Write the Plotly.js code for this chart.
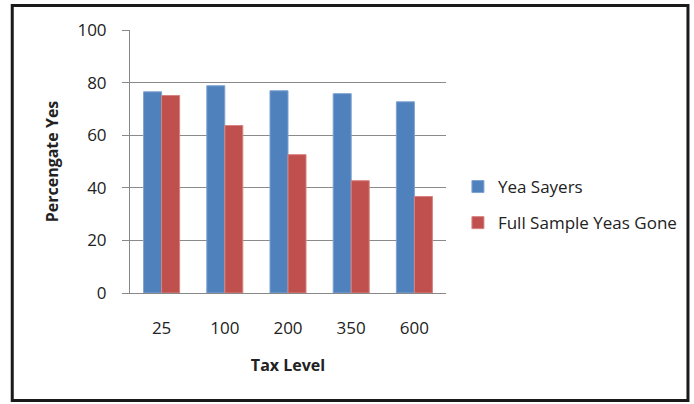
<!DOCTYPE html>
<html>
<head>
<meta charset="utf-8">
<script src="https://cdn.plot.ly/plotly-3.0.1.min.js"></script>
<style>
  html, body { margin: 0; padding: 0; background: #fff; }
  #chart { width: 694px; height: 404px; }
</style>
</head>
<body>
<div id="chart"></div>
<script>
// Tax levels on the category axis
const taxLevels = ['25', '100', '200', '350', '600'];

// Percentage answering yes at each tax level
const yeaSayers = [76.5, 78.8, 76.9, 75.8, 72.7];
const fullSampleYeasGone = [75.1, 63.7, 52.6, 42.7, 36.7];

const seriesNames = ['Yea Sayers', 'Full Sample Yeas Gone'];
const yTickValues = [0, 20, 40, 60, 80, 100];

const W = 694, H = 404;
const margin = { l: 130, r: 246, t: 30, b: 111 };
const plotW = W - margin.l - margin.r;
const plotH = H - margin.t - margin.b;

// Convert page pixels into paper coordinates for the outer frame and legend
const px = x => (x - margin.l) / plotW;
const py = y => (H - margin.b - y) / plotH;

const font = "'Open Sans', Lato, 'Liberation Sans', sans-serif";
const textColor = '#222';
const labelSize = 17;
const titleSize = 16;

const traces = [
  {
    type: 'bar', name: seriesNames[0], x: taxLevels, y: yeaSayers, legendgroup: 'a',
    marker: { color: '#4F81BD', line: { color: '#7FA3D1', width: 1 } }
  },
  {
    type: 'bar', name: seriesNames[1], x: taxLevels, y: fullSampleYeasGone, legendgroup: 'b',
    marker: { color: '#C0504D', line: { color: '#D68381', width: 1 } }
  }
];

const layout = {
  width: W, height: H,
  margin: margin,
  paper_bgcolor: '#fff', plot_bgcolor: '#fff',
  font: { family: font, size: labelSize, color: textColor },
  barmode: 'group',
  bargap: 0.43,
  bargroupgap: 0,
  showlegend: true,
  legend: {
    x: px(460), y: py(169), xanchor: 'left', yanchor: 'top',
    font: { family: font, size: labelSize, color: textColor },
    tracegroupgap: 11, itemwidth: 30,
    bgcolor: 'rgba(0,0,0,0)'
  },
  xaxis: {
    type: 'category',
    showgrid: false,
    showline: true, linecolor: '#888', linewidth: 1,
    ticks: '', ticklabelstandoff: 20,
    tickfont: { family: font, size: labelSize, color: textColor },
    title: { text: '<b>Tax Level</b>', standoff: 21, font: { family: font, size: titleSize, color: textColor } },
    fixedrange: true
  },
  yaxis: {
    range: [0, 100],
    tickvals: yTickValues,
    showgrid: true, gridcolor: '#8a8a8a', gridwidth: 1,
    showline: true, linecolor: '#888', linewidth: 1,
    ticks: 'outside', ticklen: 7, tickcolor: '#888',
    ticklabelstandoff: 12,
    zeroline: false,
    tickfont: { family: font, size: labelSize, color: textColor },
    title: { text: '<b>Percengate Yes</b>', standoff: 14, font: { family: font, size: titleSize, color: textColor } },
    fixedrange: true
  },
  shapes: [
    {
      type: 'rect', xref: 'paper', yref: 'paper', layer: 'above',
      x0: px(11.5), x1: px(691.5), y0: py(5.5), y1: py(400.5),
      line: { color: '#1a1a1a', width: 3 }
    }
  ]
};

Plotly.newPlot('chart', traces, layout, { displayModeBar: false, staticPlot: true });
</script>
</body>
</html>
